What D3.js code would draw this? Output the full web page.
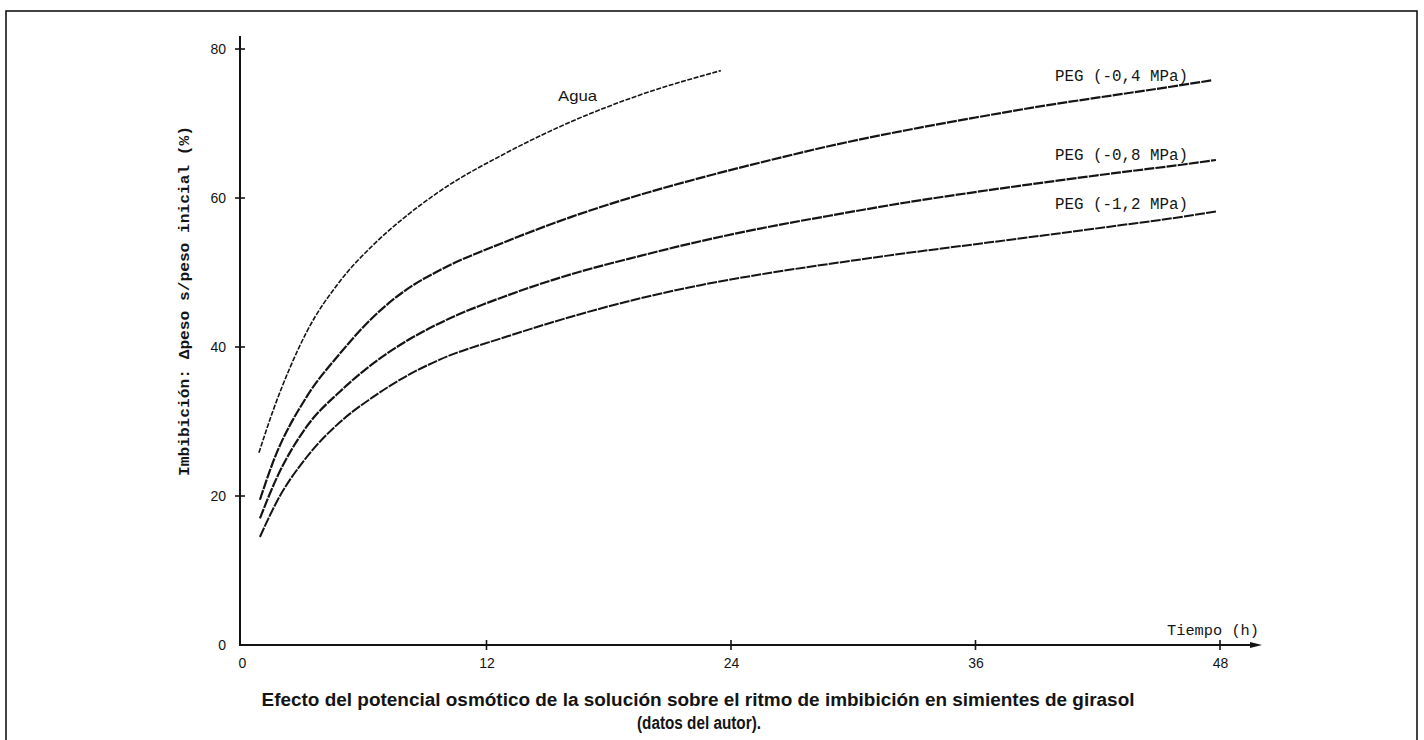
<!DOCTYPE html>
<html>
<head>
<meta charset="utf-8">
<script src="https://cdn.jsdelivr.net/npm/d3@7"></script>
<style>
  html, body { margin: 0; padding: 0; background: #fff; }
  svg { display: block; }
</style>
</head>
<body>
<svg id="chart" width="1424" height="740"></svg>
<script>
// Imbibition of sunflower seeds (% weight gain over initial weight) vs time (h)
const xTicks = [0, 12, 24, 36, 48];
const yTicks = [0, 20, 40, 60, 80];

const aguaT = [0.83, 1.53, 2.35, 3.17, 4.8, 6.44, 8.07, 9.7, 13.0, 16.2, 19.5, 23.5];
const aguaV = [25.8, 31.5, 37.2, 42.0, 48.8, 53.7, 57.6, 60.9, 66.1, 70.3, 73.8, 77.1];

const peg04T = [0.88, 1.53, 3.17, 4.8, 6.43, 8.07, 9.7, 13.0, 16.2, 19.5, 22.5, 25.8, 29.2, 32.6, 36.0, 39.4, 42.8, 45.5, 47.6];
const peg04V = [19.5, 24.6, 33.3, 39.1, 44.0, 47.7, 50.3, 54.2, 57.5, 60.4, 62.7, 65.0, 67.2, 69.1, 70.8, 72.4, 73.8, 74.9, 75.8];

const peg08T = [0.88, 1.7, 3.17, 4.8, 6.44, 8.07, 9.7, 13.0, 16.2, 19.5, 22.5, 25.8, 29.2, 32.6, 36.0, 39.4, 43.0, 46.2, 47.8];
const peg08V = [17.0, 22.4, 29.3, 34.0, 37.8, 40.8, 43.2, 46.9, 49.8, 52.2, 54.2, 56.1, 57.8, 59.4, 60.8, 62.1, 63.4, 64.5, 65.1];

const peg12T = [0.88, 1.3, 1.7, 3.17, 4.8, 6.44, 8.07, 9.7, 13.0, 16.2, 19.5, 22.5, 25.8, 29.2, 32.6, 36.0, 39.4, 43.0, 46.2, 47.8];
const peg12V = [14.5, 17.0, 19.2, 25.2, 29.9, 33.3, 36.1, 38.3, 41.4, 44.1, 46.5, 48.3, 49.9, 51.3, 52.6, 53.8, 55.0, 56.3, 57.5, 58.2];

const seriesNames = ["Agua", "PEG (-0,4 MPa)", "PEG (-0,8 MPa)", "PEG (-1,2 MPa)"];

const series = [
  { name: seriesNames[0], t: aguaT, v: aguaV, w: 1.6 },
  { name: seriesNames[1], t: peg04T, v: peg04V, w: 2.2 },
  { name: seriesNames[2], t: peg08T, v: peg08V, w: 2.2 },
  { name: seriesNames[3], t: peg12T, v: peg12V, w: 2.0 }
];

const svg = d3.select("#chart");
const ink = "#141414";
const mono = "'Liberation Mono', 'DejaVu Sans Mono', monospace";
const sans = "'Liberation Sans', Arial, sans-serif";

// outer frame
svg.append("rect")
  .attr("x", 6).attr("y", 11).attr("width", 1411).attr("height", 760)
  .attr("fill", "none").attr("stroke", ink).attr("stroke-width", 1.6);

const x = d3.scaleLinear().domain([0, 48]).range([242, 1220]);
const y = d3.scaleLinear().domain([0, 80]).range([645, 49]);

// y axis
const yAxis = d3.axisLeft(y).tickValues(yTicks).tickSize(0).tickPadding(14).tickFormat(d3.format("d"));
const gy = svg.append("g").attr("transform", `translate(${x(0) - 2},0)`).call(yAxis);
gy.select(".domain").remove();
gy.selectAll("text").attr("font-family", sans).attr("font-size", 14).attr("fill", ink);
gy.append("line").attr("x1", 0).attr("x2", 0).attr("y1", 36).attr("y2", y(0))
  .attr("stroke", ink).attr("stroke-width", 2);
gy.selectAll(".tickmark").data(yTicks.filter(d => d > 0)).enter().append("line")
  .attr("x1", -5).attr("x2", 5).attr("y1", d => y(d)).attr("y2", d => y(d))
  .attr("stroke", ink).attr("stroke-width", 1.6);

// x axis
const xAxis = d3.axisBottom(x).tickValues(xTicks).tickSize(0).tickPadding(13).tickFormat(d3.format("d"));
const gx = svg.append("g").attr("transform", `translate(0,${y(0)})`).call(xAxis);
gx.select(".domain").remove();
gx.selectAll("text").attr("font-family", sans).attr("font-size", 14).attr("fill", ink);
gx.append("line").attr("x1", x(0) - 3).attr("x2", 1258).attr("y1", 0).attr("y2", 0)
  .attr("stroke", ink).attr("stroke-width", 2);
gx.append("path").attr("d", "M1262,0 L1250,-3 L1250,3 Z").attr("fill", ink);
gx.selectAll(".tickmark").data(xTicks.filter(d => d > 0)).enter().append("line")
  .attr("x1", d => x(d)).attr("x2", d => x(d)).attr("y1", -5).attr("y2", 5)
  .attr("stroke", ink).attr("stroke-width", 1.6);

// axis titles
svg.append("text")
  .attr("transform", "translate(189,301) rotate(-90)")
  .attr("text-anchor", "middle")
  .attr("font-family", mono).attr("font-size", 15).attr("font-weight", "bold")
  .attr("fill", ink)
  .attr("textLength", 350).attr("lengthAdjust", "spacingAndGlyphs")
  .text("Imbibición: Δpeso s/peso inicial (%)");

svg.append("text")
  .attr("x", 1167).attr("y", 635)
  .attr("font-family", mono).attr("font-size", 15)
  .attr("fill", ink)
  .attr("textLength", 92).attr("lengthAdjust", "spacingAndGlyphs")
  .text("Tiempo (h)");

// curves
const line = d3.line()
  .x(d => x(d[0]))
  .y(d => y(d[1]))
  .curve(d3.curveMonotoneX);

svg.append("g").selectAll("path")
  .data(series).enter().append("path")
  .attr("d", s => line(s.t.map((t, i) => [t, s.v[i]])))
  .attr("fill", "none")
  .attr("stroke", ink)
  .attr("stroke-width", s => s.w)
  .attr("stroke-dasharray", (s, i) => i === 0 ? "5 1.5" : "10 1.2");

// series labels
const labelPos = [
  { x: 558, y: 101 },
  { x: 1055, y: 81 },
  { x: 1055, y: 160 },
  { x: 1055, y: 209 }
];
svg.append("g").selectAll("text")
  .data(series).enter().append("text")
  .attr("x", (s, i) => labelPos[i].x)
  .attr("y", (s, i) => labelPos[i].y)
  .attr("font-family", (s, i) => i === 0 ? sans : mono)
  .attr("font-size", (s, i) => i === 0 ? 15 : 16)
  .attr("fill", ink)
  .attr("textLength", (s, i) => i === 0 ? 39 : 133)
  .attr("lengthAdjust", "spacingAndGlyphs")
  .text(s => s.name);

// caption
svg.append("text")
  .attr("x", 698).attr("y", 706)
  .attr("text-anchor", "middle")
  .attr("font-family", sans).attr("font-size", 18).attr("font-weight", "bold")
  .attr("fill", ink)
  .attr("textLength", 873).attr("lengthAdjust", "spacingAndGlyphs")
  .text("Efecto del potencial osmótico de la solución sobre el ritmo de imbibición en simientes de girasol");
svg.append("text")
  .attr("x", 699).attr("y", 729)
  .attr("text-anchor", "middle")
  .attr("font-family", sans).attr("font-size", 18).attr("font-weight", "bold")
  .attr("fill", ink)
  .attr("textLength", 124).attr("lengthAdjust", "spacingAndGlyphs")
  .text("(datos del autor).");
</script>
</body>
</html>
